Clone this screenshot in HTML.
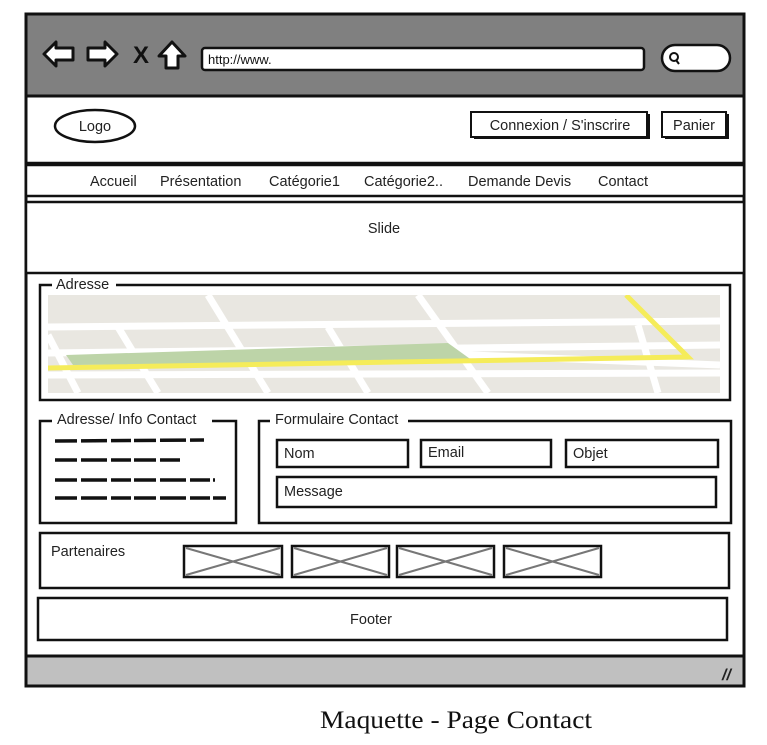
<!DOCTYPE html>
<html><head><meta charset="utf-8"><style>
html,body{margin:0;padding:0;background:#fff;width:767px;height:745px;overflow:hidden}
svg{display:block}
text{font-family:"Liberation Sans",sans-serif;font-size:14.5px;fill:#222}
</style></head><body>
<svg width="767" height="745" viewBox="0 0 767 745" xmlns="http://www.w3.org/2000/svg">
<rect x="26" y="14" width="718" height="672" fill="#fff" stroke="#111" stroke-width="3"/>
<rect x="26" y="14" width="718" height="82" fill="#808080" stroke="#111" stroke-width="3"/>
<rect x="26" y="656" width="718" height="30" fill="#c0c0c0" stroke="#111" stroke-width="3"/>
<text x="722" y="680" style="font-size:16px;font-weight:bold;font-style:italic">//</text>
<g stroke="#111" stroke-width="3" fill="#fff" stroke-linejoin="round">
<path d="M44 54 L56 42 L56 48 L73 48 L73 60 L56 60 L56 66 Z"/>
<path d="M117 54 L105 42 L105 48 L88 48 L88 60 L105 60 L105 66 Z"/>
<path d="M172 42 L185 56 L178 56 L178 68 L166 68 L166 56 L159 56 Z"/>
</g>
<text x="133" y="63" style="font-size:24px;font-weight:bold;fill:#111">X</text>
<rect x="202" y="48" width="442" height="22" rx="3" fill="#fff" stroke="#111" stroke-width="2.5"/>
<text x="208" y="64" style="font-size:13px;fill:#111">http://www.</text>
<rect x="662" y="45" width="68" height="26" rx="13" fill="#fff" stroke="#111" stroke-width="2.5"/>
<circle cx="674" cy="57" r="4" fill="none" stroke="#111" stroke-width="2"/>
<line x1="676" y1="60" x2="679" y2="64" stroke="#111" stroke-width="2"/>
<ellipse cx="95" cy="126" rx="40" ry="16" fill="#fff" stroke="#111" stroke-width="2.5"/>
<text x="95" y="131" text-anchor="middle">Logo</text>
<rect x="474" y="114" width="176" height="25" fill="#111"/>
<rect x="471" y="112" width="176" height="25" fill="#fff" stroke="#111" stroke-width="2"/>
<text x="560" y="130" text-anchor="middle">Connexion / S'inscrire</text>
<rect x="665" y="114" width="64" height="25" fill="#111"/>
<rect x="662" y="112" width="64" height="25" fill="#fff" stroke="#111" stroke-width="2"/>
<text x="694" y="130" text-anchor="middle">Panier</text>
<line x1="26" y1="163" x2="744" y2="163" stroke="#111" stroke-width="2.5"/>
<rect x="26" y="165" width="718" height="31" fill="#fff" stroke="#111" stroke-width="2.5"/>
<text x="90" y="186">Accueil</text>
<text x="160" y="186">Présentation</text>
<text x="269" y="186">Catégorie1</text>
<text x="364" y="186">Catégorie2..</text>
<text x="468" y="186">Demande Devis</text>
<text x="598" y="186">Contact</text>
<rect x="26" y="202" width="718" height="71" fill="#fff" stroke="#111" stroke-width="2.5"/>
<text x="384" y="233" text-anchor="middle">Slide</text>
<rect x="40" y="285" width="690" height="115" fill="#fff" stroke="#111" stroke-width="2.5"/>
<rect x="52" y="279" width="64" height="12" fill="#fff"/>
<text x="56" y="289">Adresse</text>
<svg x="48" y="295" width="672" height="98" viewBox="0 0 672 98">
<rect width="672" height="98" fill="#e9e7e1"/>
<g stroke="#fff" stroke-width="7" fill="none">
<line x1="0" y1="32" x2="672" y2="26"/>
<line x1="0" y1="58" x2="672" y2="50"/>
<line x1="300" y1="55" x2="672" y2="70"/>
<line x1="0" y1="80" x2="672" y2="78"/>
<line x1="160" y1="0" x2="220" y2="98"/>
<line x1="370" y1="0" x2="440" y2="98"/>
<line x1="280" y1="32" x2="320" y2="98"/>
<line x1="70" y1="32" x2="110" y2="98"/>
<line x1="0" y1="40" x2="30" y2="98"/>
<line x1="590" y1="30" x2="610" y2="98"/>
</g>
<polygon points="18,60 400,48 425,66 25,70" fill="#bdd4a8"/>
<polyline points="0,73 640,62 578,0" fill="none" stroke="#f5ec5a" stroke-width="5"/>
</svg>
<rect x="40" y="421" width="196" height="102" fill="#fff" stroke="#111" stroke-width="2.5"/>
<rect x="52" y="414" width="160" height="12" fill="#fff"/>
<text x="57" y="424">Adresse/ Info Contact</text>
<g stroke="#111" stroke-width="3.5" stroke-dasharray="22 4 26 4 20 3">
<line x1="55" y1="441" x2="204" y2="440"/>
<line x1="55" y1="460" x2="180" y2="460"/>
<line x1="55" y1="480" x2="215" y2="480"/>
<line x1="55" y1="498" x2="226" y2="498"/>
</g>
<rect x="259" y="421" width="472" height="102" fill="#fff" stroke="#111" stroke-width="2.5"/>
<rect x="270" y="414" width="138" height="12" fill="#fff"/>
<text x="275" y="424">Formulaire Contact</text>
<g fill="#fff" stroke="#111" stroke-width="2.5">
<rect x="277" y="440" width="131" height="27"/>
<rect x="421" y="440" width="130" height="27"/>
<rect x="566" y="440" width="152" height="27"/>
<rect x="277" y="477" width="439" height="30"/>
</g>
<text x="284" y="458">Nom</text>
<text x="428" y="457">Email</text>
<text x="573" y="458">Objet</text>
<text x="284" y="496">Message</text>
<rect x="40" y="533" width="689" height="55" fill="#fff" stroke="#111" stroke-width="2.5"/>
<text x="51" y="556">Partenaires</text>
<g fill="#fff" stroke="#111" stroke-width="2.5">
<rect x="184" y="546" width="98" height="31"/>
<rect x="292" y="546" width="97" height="31"/>
<rect x="397" y="546" width="97" height="31"/>
<rect x="504" y="546" width="97" height="31"/>
</g>
<g stroke="#777" stroke-width="2">
<line x1="186" y1="548" x2="280" y2="575"/><line x1="186" y1="575" x2="280" y2="548"/>
<line x1="294" y1="548" x2="387" y2="575"/><line x1="294" y1="575" x2="387" y2="548"/>
<line x1="399" y1="548" x2="492" y2="575"/><line x1="399" y1="575" x2="492" y2="548"/>
<line x1="506" y1="548" x2="599" y2="575"/><line x1="506" y1="575" x2="599" y2="548"/>
</g>
<rect x="38" y="598" width="689" height="42" fill="#fff" stroke="#111" stroke-width="2.5"/>
<text x="371" y="624" text-anchor="middle">Footer</text>
<text x="320" y="728" textLength="272" lengthAdjust="spacingAndGlyphs" style="font-family:'Liberation Serif',serif;font-size:25px;fill:#111">Maquette - Page Contact</text>
</svg>
</body></html>
